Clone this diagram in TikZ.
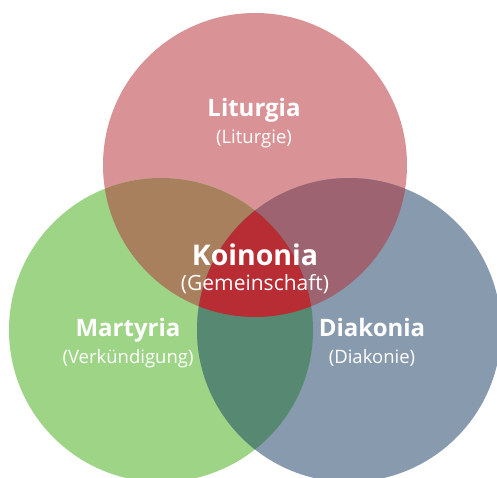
\documentclass[tikz,border=0pt]{standalone}
\usepackage{fontspec}
\setmainfont{Open Sans}
\definecolor{cT}{HTML}{D99396}
\definecolor{cL}{HTML}{9DD486}
\definecolor{cR}{HTML}{889AAD}
\definecolor{cTL}{HTML}{A9805D}
\definecolor{cTR}{HTML}{9E6370}
\definecolor{cLR}{HTML}{578872}
\definecolor{cTLR}{HTML}{B82C33}
\tikzset{
  title/.style={text=white, anchor=base, inner sep=0pt, font=\bfseries\fontsize{24}{27}\selectfont},
  sub/.style={text=white, anchor=base, inner sep=0pt, font=\fontsize{18.5}{22}\selectfont},
  bigtitle/.style={text=white, anchor=base, inner sep=0pt, font=\bfseries\fontsize{28.5}{32}\selectfont},
  bigsub/.style={text=white, anchor=base, inner sep=0pt, font=\fontsize{21}{25}\selectfont},
}
\begin{document}
\begin{tikzpicture}[x=1pt,y=-1pt]
\useasboundingbox (0,0) rectangle (497,477);
\clip (0,0) rectangle (497,477);
\coordinate (T) at (255,165);
\coordinate (L) at (161,330);
\coordinate (R) at (349,330);
\fill[cT] (T) circle (152);
\fill[cL] (L) circle (152);
\fill[cR] (R) circle (152);
\begin{scope}
  \clip (T) circle (152);
  \fill[cTL] (L) circle (152);
  \fill[cTR] (R) circle (152);
\end{scope}
\begin{scope}
  \clip (L) circle (152);
  \fill[cLR] (R) circle (152);
  \clip (R) circle (152);
  \fill[cTLR] (T) circle (152);
\end{scope}
\node[title] (lit) at (254,116) {Liturgia};
\node[sub] (lits) at (254,143) {(Liturgie)};
\node[bigtitle] (koi) at (255,265) {Koinonia};
\node[bigsub] (gem) at (255,290) {(Gemeinschaft)};
\node[title] (mar) at (128,336) {Martyria};
\node[sub] (mars) at (128,363) {(Verkündigung)};
\node[title] (dia) at (372,336) {Diakonia};
\node[sub] (dias) at (372,363) {(Diakonie)};
\end{tikzpicture}
\end{document}
